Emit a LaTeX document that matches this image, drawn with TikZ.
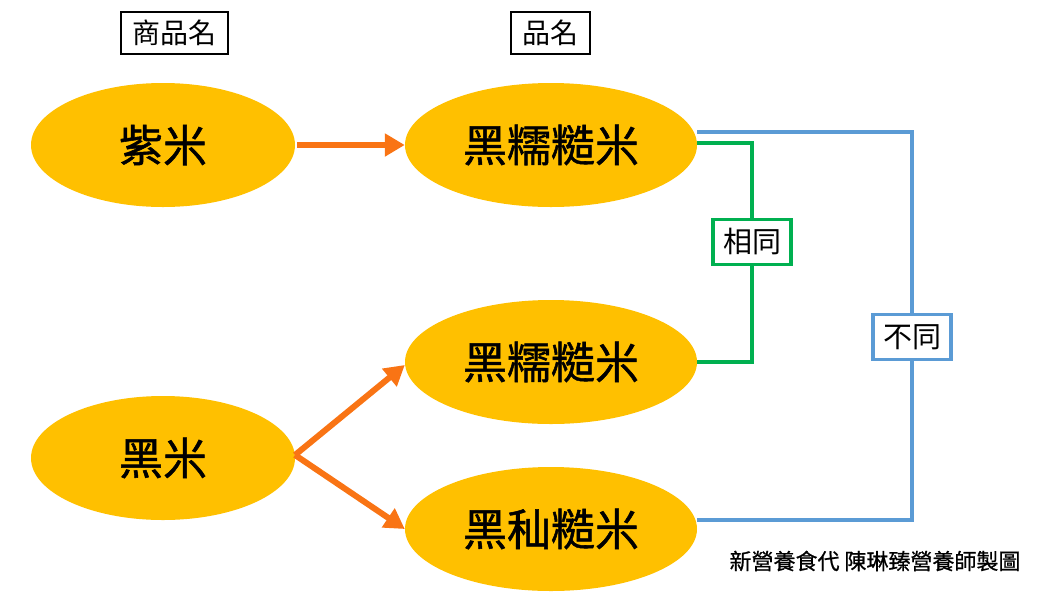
\documentclass[tikz,border=0pt]{standalone}
\usepackage{fontspec}
\setmainfont{Noto Sans CJK TC}
\newfontfamily\ricefont[FakeBold=1.2]{Noto Sans CJK TC}
\newfontfamily\footfont[FakeBold=0.8]{Noto Sans CJK TC}
\usetikzlibrary{shapes.geometric,arrows.meta,calc}
\definecolor{gold}{HTML}{FFC000}
\definecolor{orng}{HTML}{F97414}
\definecolor{grn}{HTML}{00B050}
\definecolor{blu}{HTML}{5B9BD5}
\tikzset{
  rice/.style={ellipse,fill=gold,draw=none,minimum width=264pt,minimum height=124pt,inner sep=0pt,font=\ricefont\fontsize{44}{48}\selectfont},
  ricewide/.style={rice,minimum width=292pt},
  headbox/.style={draw=black,line width=1.2pt,fill=white,minimum height=42pt,inner sep=0pt,font=\fontsize{28}{32}\selectfont},
  tagbox/.style={line width=3.5pt,fill=white,minimum height=45pt,minimum width=78pt,inner sep=0pt,font=\fontsize{29}{32}\selectfont},
  flow/.style={draw=orng,line width=6pt,-{Triangle[length=20pt,width=22pt]}},
  link/.style={line width=3.5pt}
}
\begin{document}
\begin{tikzpicture}[x=1pt,y=-1pt]
\useasboundingbox (0,0) rectangle (1042,614);
\node[headbox,minimum width=107pt] (h1) at (174.5,33) {商品名};
\node[headbox,minimum width=79pt] (h2) at (550.5,33) {品名};
\node[rice] (zimi) at (163,145) {紫米};
\node[rice] (heimi) at (163,458) {黑米};
\node[ricewide] (top) at (551,145) {黑糯糙米};
\node[ricewide] (mid) at (551,362) {黑糯糙米};
\node[ricewide] (bot) at (551,529) {黑秈糙米};
% orange arrows
\coordinate (s2) at (295,455);
\draw[flow] ($(zimi.east)+(2,0)$) -- (top.west);
\draw[flow] (s2) -- ($(mid.west)+(0,3)$);
\draw[flow] (s2) -- (bot.west);
% green connector
\coordinate (g1) at (697,143);
\coordinate (g2) at (752,143);
\coordinate (g3) at (752,362);
\coordinate (g4) at (697,362);
\draw[link,draw=grn] (g1) -- (g2) -- (g3) -- (g4);
\node[tagbox,draw=grn] (same) at (752,242) {相同};
% blue connector
\coordinate (b1) at (697,132);
\coordinate (b2) at (912,132);
\coordinate (b3) at (912,520);
\coordinate (b4) at (697,520);
\draw[link,draw=blu] (b1) -- (b2) -- (b3) -- (b4);
\node[tagbox,draw=blu] (diff) at (912,337) {不同};
% footer
\node[font=\footfont\fontsize{22}{24}\selectfont,inner sep=0pt] (foot) at (875,561) {新營養食代 陳琳臻營養師製圖};
\end{tikzpicture}
\end{document}
